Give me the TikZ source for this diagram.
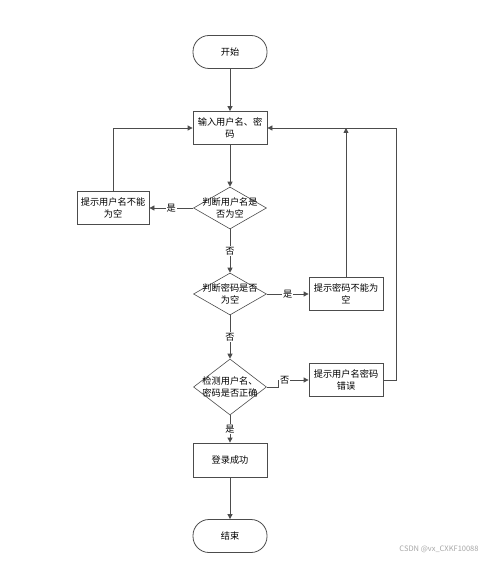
\documentclass[tikz,border=0pt]{standalone}
\usepackage{fontspec}
\setmainfont{Noto Sans CJK SC}
\usetikzlibrary{shapes.geometric,arrows.meta}
\begin{document}
\begin{tikzpicture}[x=1pt,y=-1pt,
  every node/.style={font=\fontsize{9.2}{11.5}\selectfont},
  proc/.style={draw=black!70, line width=0.8pt, minimum width=74pt, minimum height=33pt, align=center, inner sep=1pt},
  term/.style={proc, rounded corners=16pt},
  dec/.style={diamond, draw=black!70, line width=0.6pt, minimum width=73pt, minimum height=42pt, inner sep=0pt},
  dtext/.style={align=center, inner sep=0pt},
  arr/.style={draw=black!70, line width=0.8pt, -{Triangle[length=5pt,width=5pt]}},
  lab/.style={fill=white, inner sep=1pt, text=black}
]
\useasboundingbox (0,0) rectangle (497,561);
\node[term] (start) at (230,52) {开始};
\node[proc] (input) at (230,128) {输入用户名、密\\码};
\node[dec] (d1) at (230,208) {};
\node[dtext] at (d1) {判断用户名是\\否为空};
\node[proc, minimum width=72pt] (e1) at (113,208) {提示用户名不能\\为空};
\node[dec] (d2) at (230,294) {};
\node[dtext] at (d2) {判断密码是否\\为空};
\node[proc] (e2) at (346,294) {提示密码不能为\\空};
\node[dec, minimum height=56pt] (d3) at (230,387) {};
\node[dtext] at (d3) {检测用户名、\\密码是否正确};
\node[proc] (e3) at (346,380) {提示用户名密码\\错误};
\node[proc, minimum height=34pt] (ok) at (230,460) {登录成功};
\node[term] (end) at (230,536) {结束};
\node[text=black!35, font=\fontsize{7.5}{9}\selectfont] (wm) at (439,549) {CSDN @vx\_CXKF10088};

\draw[arr] (start) -- (input);
\draw[arr] (input) -- (d1);
\draw[arr] (d1) -- node[lab]{是} (e1);
\draw[arr] (e1.north) |- (input.west);
\draw[arr] (d1) -- node[lab]{否} (d2);
\draw[arr] (d2) -- node[lab]{是} (e2);
\draw[arr] (e2.north) -- (e2.north |- input.east);
\draw[arr] (d2) -- node[lab]{否} (d3);
\draw[arr] (d3.east) -- ++(12,0) |- node[lab, pos=0.6]{否} (e3.west);
\draw[arr] (e3.east) -- ++(13,0) |- (input.east);
\draw[arr] (d3) -- node[lab]{是} (ok);
\draw[arr] (ok) -- (end);
\end{tikzpicture}
\end{document}
